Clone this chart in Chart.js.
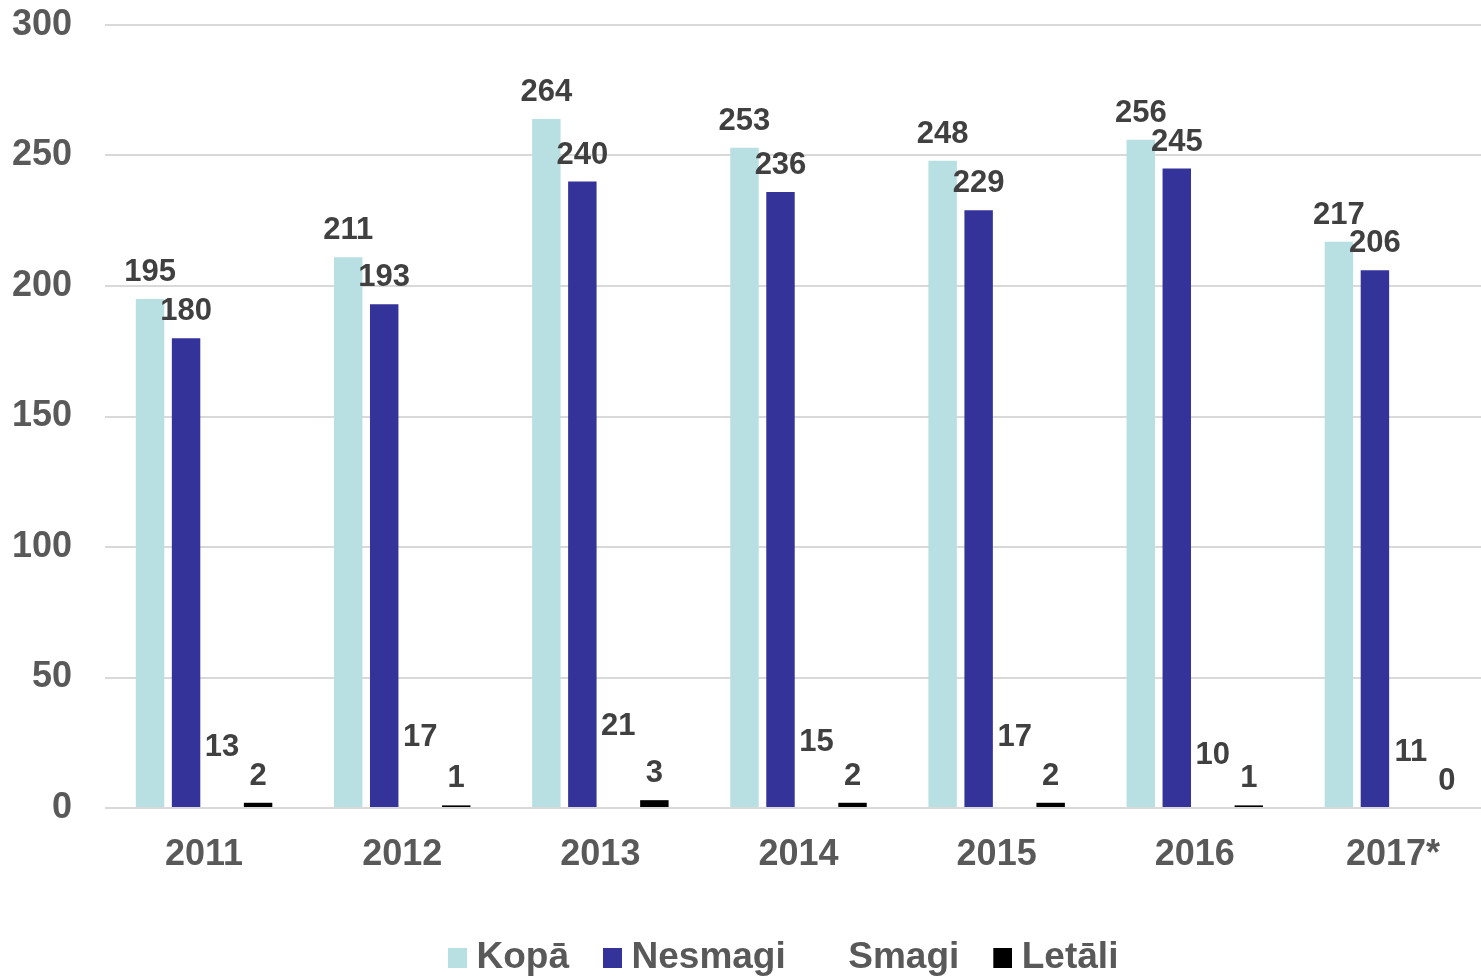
<!DOCTYPE html>
<html><head><meta charset="utf-8">
<script src="https://cdn.jsdelivr.net/npm/chart.js@4/dist/chart.umd.min.js"></script>
<style>html,body{margin:0;padding:0;overflow:hidden;background:#fff}</style>
</head><body>
<canvas id="c" width="1500" height="976"></canvas>
<script>
const categories = ['2011','2012','2013','2014','2015','2016','2017*'];
const kopa = [195,211,264,253,248,256,217];
const nesmagi = [180,193,240,236,229,245,206];
const smagi = [13,17,21,15,17,10,11];
const letali = [2,1,3,2,2,1,0];
const seriesNames = ['Kopā','Nesmagi','Smagi','Letāli'];
const yTicks = [0,50,100,150,200,250,300];

const FONT = "'Liberation Sans', Arial, sans-serif";
const colors = ['#b8e0e3','#333399','#ffffff','#000000'];

function swatch(color){
  const c = document.createElement('canvas');
  c.width = 28; c.height = 20;
  const x = c.getContext('2d');
  x.fillStyle = color; x.fillRect(9,0,19,20);
  return c;
}

const labelPlugin = {
  id:'barLabels',
  afterDatasetsDraw(chart){
    const ctx = chart.ctx;
    ctx.save();
    ctx.font = "bold 31px " + FONT;
    ctx.fillStyle = '#404040';
    ctx.textAlign = 'center'; ctx.textBaseline = 'alphabetic';
    chart.data.datasets.forEach((ds,i)=>{
      const meta = chart.getDatasetMeta(i);
      meta.data.forEach((bar,j)=>{
        ctx.fillText(String(ds.data[j]), bar.x, bar.y - 18);
      });
    });
    ctx.restore();
  }
};

const legendShift = {
  id:'legendShift',
  afterLayout(chart){
    const lg = chart.legend;
    if (!lg || !lg.lineWidths) return;
    const pad = lg.options.labels.padding;
    const start = (lg.left + pad + lg.right - lg.lineWidths[0]) / 2;
    const dx = 448 - start;
    lg.left += dx; lg.right += dx;
    const textCenter = lg.top + pad + 18.5;
    const dy = 958 - textCenter;
    lg.top += dy; lg.bottom += dy;
  }
};

const seriesData = [kopa, nesmagi, smagi, letali];

new Chart(document.getElementById('c'), {
  type: 'bar',
  data: {
    labels: categories,
    datasets: seriesNames.map((n,i)=>({
      label: n,
      data: seriesData[i],
      backgroundColor: colors[i],
      borderWidth: 0,
      barPercentage: 0.79,
      categoryPercentage: 0.727
    }))
  },
  options: {
    responsive: false,
    animation: false,
    events: [],
    layout: { padding: { top: 25, right: 8, left: 0, bottom: 0 } },
    plugins: {
      tooltip: { enabled: false },
      legend: {
        position: 'bottom',
        labels: {
          usePointStyle: true,
          pointStyleWidth: 10,
          padding: 34,
          color: '#595959',
          font: { family: FONT, size: 37, weight: 'bold' },
          generateLabels(chart){
            const items = Chart.defaults.plugins.legend.labels.generateLabels(chart);
            items.forEach((it,i)=>{ it.pointStyle = swatch(colors[i]); });
            return items;
          }
        }
      }
    },
    scales: {
      x: {
        grid: { display: false },
        border: { display: false },
        ticks: { color: '#595959', padding: 17, font: { family: FONT, size: 36, weight: 'bold' } },
        afterFit(s){ s.height = 87; s.paddingLeft = 0; s.paddingRight = 0; }
      },
      y: {
        min: 0, max: 300,
        afterBuildTicks(s){ s.ticks = yTicks.map(v=>({value:v})); },
        grid: { color: '#d9d9d9', lineWidth: 2, drawTicks: false },
        border: { display: false },
        ticks: { color: '#595959', padding: 33, font: { family: FONT, size: 36, weight: 'bold' } },
        afterFit(s){ s.width = 105; s.paddingTop = 0; s.paddingBottom = 0; }
      }
    }
  },
  plugins: [labelPlugin, legendShift]
});
</script>
</body></html>
